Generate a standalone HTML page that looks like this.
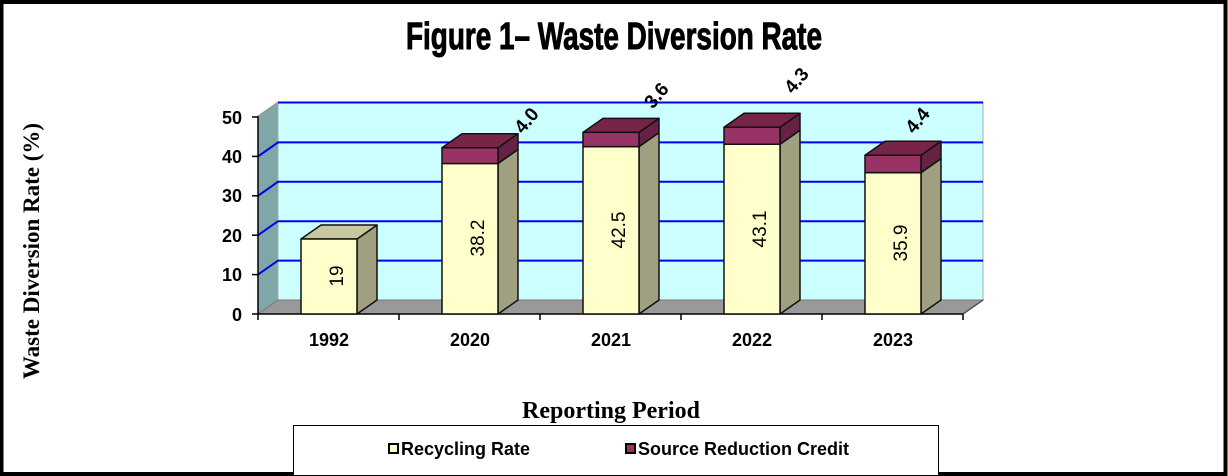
<!DOCTYPE html>
<html><head><meta charset="utf-8"><style>
html,body{margin:0;padding:0;background:#fff;}
svg{display:block;}
</style></head><body>
<svg width="1228" height="476" viewBox="0 0 1228 476" xmlns="http://www.w3.org/2000/svg" font-family="Liberation Sans, Arial, sans-serif">
<rect x="1.5" y="2" width="1224" height="472" fill="#fff" stroke="#000" stroke-width="4"/>
<text x="614" y="49" text-anchor="middle" font-size="38" font-weight="bold" textLength="416" lengthAdjust="spacingAndGlyphs" font-family="Liberation Sans Narrow, Liberation Sans, sans-serif" stroke="#000" stroke-width="1">Figure 1– Waste Diversion Rate</text>
<polygon points="258,116 278,102 278,300 258,314" fill="#7FA7A7" stroke="#999" stroke-width="1"/>
<rect x="278" y="102" width="705" height="198" fill="#CCFFFF" stroke="#aaa" stroke-width="1"/>
<polygon points="258,314 278,300 983,300 963,314" fill="#999999" stroke="#777" stroke-width="1"/>
<g stroke="#0000EE" stroke-width="2" fill="none">
<polyline points="258,274.6 278,260.6 983,260.6"/>
<polyline points="258,235.2 278,221.2 983,221.2"/>
<polyline points="258,195.8 278,181.8 983,181.8"/>
<polyline points="258,156.4 278,142.4 983,142.4"/>
<polyline points="278,102.5 983,102.5"/>
</g>
<g stroke="#000" stroke-width="1.5">
<line x1="258" y1="116" x2="258" y2="320"/>
<line x1="258" y1="314" x2="963" y2="314"/>
<line x1="963" y1="314" x2="983" y2="300" stroke="#555"/>
<line x1="252" y1="314" x2="258" y2="314"/><line x1="252" y1="274.6" x2="258" y2="274.6"/>
<line x1="252" y1="235.2" x2="258" y2="235.2"/><line x1="252" y1="195.8" x2="258" y2="195.8"/>
<line x1="252" y1="156.4" x2="258" y2="156.4"/><line x1="252" y1="117" x2="258" y2="117"/>
<line x1="399" y1="314" x2="399" y2="320"/><line x1="540" y1="314" x2="540" y2="320"/>
<line x1="681" y1="314" x2="681" y2="320"/><line x1="822" y1="314" x2="822" y2="320"/>
<line x1="963" y1="314" x2="963" y2="320"/>
</g>
<g font-size="18" font-weight="bold" text-anchor="end">
<text x="242" y="321">0</text><text x="242" y="281">10</text><text x="242" y="242">20</text>
<text x="242" y="202">30</text><text x="242" y="163">40</text><text x="242" y="124">50</text>
</g>
<g font-size="18" font-weight="bold" text-anchor="middle">
<text x="329" y="346">1992</text><text x="470" y="346">2020</text><text x="611" y="346">2021</text>
<text x="752" y="346">2022</text><text x="893" y="346">2023</text>
</g>
<g stroke="#111" stroke-width="1.5" stroke-linejoin="round">
<polygon points="357,314 377,300 377,225 357,239" fill="#A0A080"/>
<polygon points="301,239 321,225 377,225 357,239" fill="#C8C8A0"/>
<rect x="301" y="239" width="56" height="75" fill="#FFFFCC"/>
<polygon points="498,314 518,300 518,149.5 498,163.5" fill="#A0A080"/>
<polygon points="498,163.5 518,149.5 518,133.7 498,147.7" fill="#662244"/>
<polygon points="442,147.7 462,133.7 518,133.7 498,147.7" fill="#772448"/>
<rect x="442" y="163.5" width="56" height="150.5" fill="#FFFFCC"/>
<rect x="442" y="147.7" width="56" height="15.8" fill="#993366"/>
<polygon points="639,314 659,300 659,132.6 639,146.6" fill="#A0A080"/>
<polygon points="639,146.6 659,132.6 659,118.4 639,132.4" fill="#662244"/>
<polygon points="583,132.4 603,118.4 659,118.4 639,132.4" fill="#772448"/>
<rect x="583" y="146.6" width="56" height="167.4" fill="#FFFFCC"/>
<rect x="583" y="132.4" width="56" height="14.2" fill="#993366"/>
<polygon points="780,314 800,300 800,130.2 780,144.2" fill="#A0A080"/>
<polygon points="780,144.2 800,130.2 800,113.2 780,127.2" fill="#662244"/>
<polygon points="724,127.2 744,113.2 800,113.2 780,127.2" fill="#772448"/>
<rect x="724" y="144.2" width="56" height="169.8" fill="#FFFFCC"/>
<rect x="724" y="127.2" width="56" height="17" fill="#993366"/>
<polygon points="921,314 941,300 941,158.6 921,172.6" fill="#A0A080"/>
<polygon points="921,172.6 941,158.6 941,141.3 921,155.3" fill="#662244"/>
<polygon points="865,155.3 885,141.3 941,141.3 921,155.3" fill="#772448"/>
<rect x="865" y="172.6" width="56" height="141.4" fill="#FFFFCC"/>
<rect x="865" y="155.3" width="56" height="17.3" fill="#993366"/>
</g>
<g font-size="19" text-anchor="middle">
<text transform="translate(336,276) rotate(-90)" dy="7">19</text>
<text transform="translate(477,238) rotate(-90)" dy="7">38.2</text>
<text transform="translate(618,230) rotate(-90)" dy="7">42.5</text>
<text transform="translate(759,229) rotate(-90)" dy="7">43.1</text>
<text transform="translate(900,243) rotate(-90)" dy="7">35.9</text>
</g>
<g font-size="19" font-weight="bold" text-anchor="middle">
<text transform="translate(526,120) rotate(-50)" dy="7">4.0</text>
<text transform="translate(656,95) rotate(-50)" dy="7">3.6</text>
<text transform="translate(796,80) rotate(-50)" dy="7">4.3</text>
<text transform="translate(917,120) rotate(-50)" dy="7">4.4</text>
</g>
<text transform="translate(39,251) rotate(-90)" text-anchor="middle" font-family="Liberation Serif, serif" font-weight="bold" font-size="23">Waste Diversion Rate (%)</text>
<text x="611" y="418" text-anchor="middle" font-family="Liberation Serif, serif" font-weight="bold" font-size="24">Reporting Period</text>
<rect x="293.5" y="425.5" width="645" height="50" fill="#fff" stroke="#000" stroke-width="1"/>
<rect x="389" y="444" width="9" height="9" fill="#FFFFCC" stroke="#000" stroke-width="2"/>
<text x="401" y="455" font-size="18" font-weight="bold">Recycling Rate</text>
<rect x="626" y="444" width="9" height="9" fill="#993366" stroke="#000" stroke-width="2"/>
<text x="638" y="455" font-size="18" font-weight="bold">Source Reduction Credit</text>
</svg>
</body></html>
